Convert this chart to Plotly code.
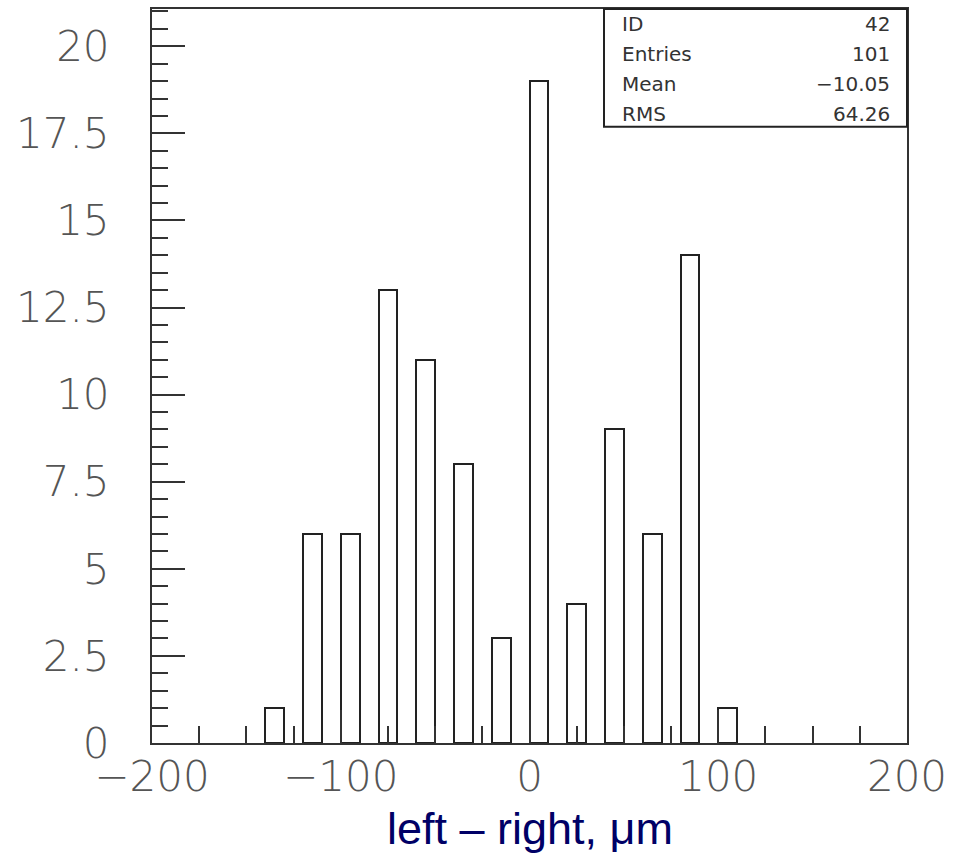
import plotly.graph_objects as go

# Histogram data (bins of width 10 starting every 20 units)
bin_left = [-140, -120, -100, -80, -60, -40, -20, 0, 20, 40, 60, 80, 100]
counts = [1, 6, 6, 13, 11, 8, 3, 19, 4, 9, 6, 14, 1]
bin_width = 10

stat_labels = ["ID", "Entries", "Mean", "RMS"]
stat_values = ["42", "101", "\u221210.05", "64.26"]

y_ticks = [0, 2.5, 5, 7.5, 10, 12.5, 15, 17.5, 20]
y_ticklabels = ["0", "2.5", "5", "7.5", "10", "12.5", "15", "17.5", "20"]
x_ticks = [-200, -100, 0, 100, 200]
x_ticklabels = ["\u2212200", "\u2212100", "0", "100", "200"]

W, H = 965, 853
L, R, T, B = 152, 58, 7, 110

fig = go.Figure()
fig.add_trace(go.Bar(
    x=bin_left, y=counts, width=[bin_width] * len(bin_left), offset=0,
    marker=dict(color="white", line=dict(color="#222222", width=2)),
    hoverinfo="x+y", showlegend=False,
))

tickfont = dict(family="DejaVu Sans", size=42, color="#555555", weight=200)
axis_common = dict(
    showgrid=False, zeroline=False, showline=True, linecolor="#333333",
    linewidth=2, mirror=True, ticks="inside", tickcolor="#333333",
    tickwidth=2, tickfont=tickfont,
)

fig.update_layout(
    width=W, height=H,
    margin=dict(l=L, r=R, t=T, b=B),
    paper_bgcolor="white", plot_bgcolor="white",
    bargap=0,
    xaxis=dict(
        range=[-200, 200], tickmode="array", tickvals=x_ticks, ticktext=x_ticklabels,
        ticklen=33, ticklabelstandoff=-4,
        minor=dict(dtick=25, ticklen=17, ticks="inside", tickcolor="#333333", tickwidth=2, showgrid=False),
        **axis_common,
    ),
    yaxis=dict(
        range=[0, 21.07], tickmode="array", tickvals=y_ticks, ticktext=y_ticklabels,
        ticklen=33, ticklabelstandoff=32,
        minor=dict(dtick=0.5, ticklen=16, ticks="inside", tickcolor="#333333", tickwidth=2, showgrid=False),
        **axis_common,
    ),
)

# Stats box
pw = W - L - R
ph = H - T - B
box_x0 = (604 - L) / pw
box_y0 = (H - B - 125) / ph
fig.add_shape(type="rect", xref="paper", yref="paper", x0=box_x0, x1=1, y0=box_y0, y1=1,
              line=dict(color="#222222", width=2), fillcolor="white", layer="above")

row_px = [22, 52, 82, 112]
statfont = dict(family="DejaVu Sans", size=20, color="#333333")
for lab, val, rp in zip(stat_labels, stat_values, row_px):
    yy = (H - B - rp) / ph
    fig.add_annotation(xref="paper", yref="paper", x=(620 - L) / pw, y=yy, text=lab,
                       showarrow=False, xanchor="left", yanchor="middle", font=statfont)
    fig.add_annotation(xref="paper", yref="paper", x=(892 - L) / pw, y=yy, text=val,
                       showarrow=False, xanchor="right", yanchor="middle", font=statfont)

# X axis title
fig.add_annotation(xref="paper", yref="paper", x=0.5, y=(H - B - 855) / ph,
                   text="left \u2013 right, \u03bcm", showarrow=False,
                   xanchor="center", yanchor="bottom", borderpad=0,
                   font=dict(family="Liberation Sans", size=45, color="#000066"))

fig.write_html("out.html")
